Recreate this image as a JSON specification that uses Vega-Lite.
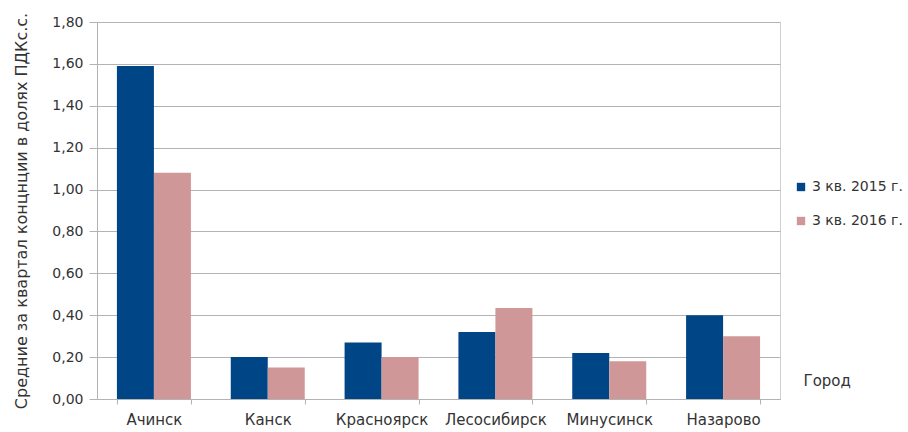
{
  "$schema": "https://vega.github.io/schema/vega-lite/v6.json",
  "width": 683,
  "height": 377,
  "autosize": {"type": "none"},
  "padding": {"left": 97, "top": 22, "right": 128, "bottom": 33},
  "background": "white",
  "config": {
    "font": "DejaVu Sans",
    "view": {"stroke": "#d0d0d0", "strokeWidth": 1}
  },
  "data": {
    "values": [
      {"city": "Ачинск", "period": "3 кв. 2015 г.", "value": 1.59},
      {"city": "Ачинск", "period": "3 кв. 2016 г.", "value": 1.08},
      {"city": "Канск", "period": "3 кв. 2015 г.", "value": 0.20},
      {"city": "Канск", "period": "3 кв. 2016 г.", "value": 0.15},
      {"city": "Красноярск", "period": "3 кв. 2015 г.", "value": 0.27},
      {"city": "Красноярск", "period": "3 кв. 2016 г.", "value": 0.20},
      {"city": "Лесосибирск", "period": "3 кв. 2015 г.", "value": 0.32},
      {"city": "Лесосибирск", "period": "3 кв. 2016 г.", "value": 0.435},
      {"city": "Минусинск", "period": "3 кв. 2015 г.", "value": 0.22},
      {"city": "Минусинск", "period": "3 кв. 2016 г.", "value": 0.18},
      {"city": "Назарово", "period": "3 кв. 2015 г.", "value": 0.40},
      {"city": "Назарово", "period": "3 кв. 2016 г.", "value": 0.30}
    ]
  },
  "mark": {"type": "bar"},
  "encoding": {
    "x": {
      "field": "city",
      "type": "nominal",
      "sort": null,
      "scale": {"paddingInner": 0.35, "paddingOuter": 0.175},
      "axis": {
        "title": "Город",
        "titleFont": "DejaVu Sans",
        "titleFontSize": 15,
        "titleFontWeight": "normal",
        "titleColor": "#333333",
        "titleX": 706,
        "titleY": -19,
        "titleAlign": "left",
        "titleBaseline": "middle",
        "labelAngle": 0,
        "labelFont": "DejaVu Sans",
        "labelFontSize": 15,
        "labelColor": "#333333",
        "labelPadding": 8,
        "domainColor": "#b3b3b3",
        "tickColor": "#b3b3b3",
        "tickBand": "extent",
        "tickSize": 5
      }
    },
    "xOffset": {"field": "period", "type": "nominal"},
    "y": {
      "field": "value",
      "type": "quantitative",
      "scale": {"domain": [0, 1.8], "nice": false},
      "axis": {
        "title": "Средние за квартал концнции в долях ПДКс.с.",
        "titleFont": "DejaVu Sans",
        "titleFontSize": 16,
        "titleFontWeight": "normal",
        "titleColor": "#333333",
        "titlePadding": 22,
        "values": [0, 0.2, 0.4, 0.6, 0.8, 1.0, 1.2, 1.4, 1.6, 1.8],
        "labelExpr": "replace(format(datum.value, '.2f'), '.', ',')",
        "labelFont": "DejaVu Sans",
        "labelFontSize": 14,
        "labelColor": "#333333",
        "labelPadding": 6,
        "domainColor": "#b3b3b3",
        "tickColor": "#b3b3b3",
        "tickSize": 8,
        "gridColor": "#b3b3b3",
        "gridWidth": 1
      }
    },
    "color": {
      "field": "period",
      "type": "nominal",
      "scale": {"range": ["#004586", "#cf9797"]},
      "legend": {
        "title": null,
        "orient": "none",
        "legendX": 697,
        "legendY": 158,
        "symbolType": "square",
        "symbolSize": 70,
        "symbolStrokeWidth": 0,
        "labelFont": "DejaVu Sans",
        "labelFontSize": 14,
        "labelColor": "#333333",
        "labelOffset": 4,
        "rowPadding": 20
      }
    }
  }
}
